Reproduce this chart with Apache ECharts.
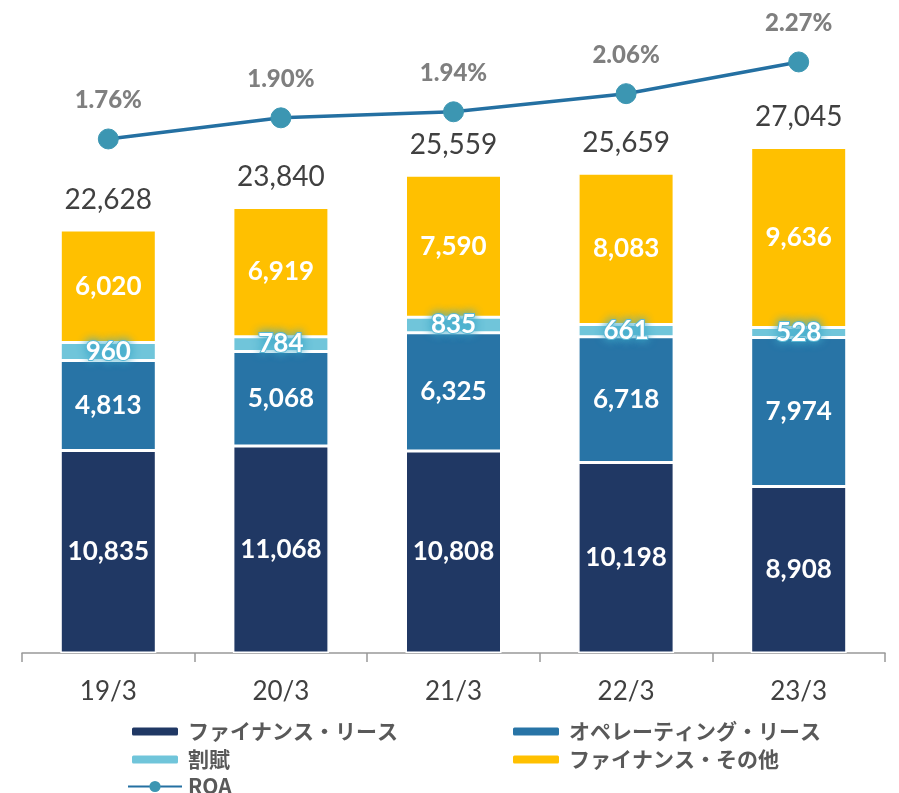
<!DOCTYPE html>
<html><head><meta charset="utf-8">
<script src="https://cdn.jsdelivr.net/npm/echarts@6/dist/echarts.min.js"></script>
<style>html,body{margin:0;padding:0;background:#fff}#c{width:899px;height:793px}</style>
</head><body><div id="c"></div>
<script>
const categories = ['19/3','20/3','21/3','22/3','23/3'];
const financeLease = [10835, 11068, 10808, 10198, 8908];
const operatingLease = [4813, 5068, 6325, 6718, 7974];
const installment = [960, 784, 835, 661, 528];
const financeOther = [6020, 6919, 7590, 8083, 9636];
const totals = [22628, 23840, 25559, 25659, 27045];
const roa = [1.76, 1.90, 1.94, 2.06, 2.27];

const names = ['ファイナンス・リース','オペレーティング・リース','割賦','ファイナンス・その他','ROA'];
const colors = ['#203864','#2874A6','#70C5DA','#FFC000','#2470A2'];
const numFont = 'Lato';
const fmt = v => v.toLocaleString('en-US');

const segLabel = {
  show: true, color: '#fff', fontWeight: 'bold', fontSize: 26, fontFamily: numFont,
  formatter: p => fmt(p.value)
};

function bar(i, data, extra) {
  return Object.assign({
    name: names[i], type: 'bar', stack: 'a', data: data, barWidth: 96,
    itemStyle: { color: colors[i], borderColor: '#fff', borderWidth: 1.5 },
    label: segLabel
  }, extra || {});
}

const legendBase = {
  padding: 0, itemWidth: 48, itemHeight: 10, itemGap: 6,
  textStyle: { fontSize: 21, fontWeight: 'bold', color: '#595959', fontFamily: 'Noto Sans CJK JP', padding: [0, 0, 0, 4] }
};
function lg(name, left, top, extra) {
  return Object.assign({}, legendBase, { data: [name], left: left, top: top }, extra || {});
}

const chart = echarts.init(document.getElementById('c'));
chart.setOption({
  animation: false,
  grid: { left: 22, right: 14, top: 10, bottom: 140 },
  legend: [
    lg(names[0], 130, 721),
    lg(names[1], 511, 721),
    lg(names[2], 130, 749),
    lg(names[3], 511, 749),
    lg(names[4], 127, 776, { itemWidth: 54, itemHeight: 14, textStyle: Object.assign({}, legendBase.textStyle, { padding: [0,0,0,1] }) })
  ],
  xAxis: {
    type: 'category', data: categories,
    axisLine: { lineStyle: { color: '#999', width: 1.5 } },
    axisTick: { show: true, length: 9, lineStyle: { color: '#999', width: 1.5 } },
    axisLabel: { fontSize: 26, color: '#404040', margin: 26, fontFamily: numFont }
  },
  yAxis: [
    { type: 'value', min: 0, max: 34400, show: false, splitLine: { show: false } },
    { type: 'value', min: -1.644, max: 2.614, show: false, splitLine: { show: false } }
  ],
  series: [
    bar(0, financeLease),
    bar(1, operatingLease),
    bar(2, installment, {
      label: Object.assign({}, segLabel, {
        textBorderColor: '#62bcd8', textBorderWidth: 2,
        textShadowColor: '#3fa9c9', textShadowBlur: 10
      })
    }),
    bar(3, financeOther),
    {
      name: 'total', type: 'bar', stack: 'a', barWidth: 96,
      data: totals.map(() => 0),
      itemStyle: { color: 'transparent' },
      label: {
        show: true, position: 'top', distance: 16,
        fontSize: 28, color: '#404040', fontFamily: numFont,
        formatter: p => fmt(totals[p.dataIndex])
      },
      tooltip: { show: false }
    },
    {
      name: names[4], type: 'line', yAxisIndex: 1, data: roa,
      lineStyle: { color: colors[4], width: 3.5 },
      itemStyle: { color: '#3C96B2', borderColor: '#3C96B2' },
      symbol: 'circle', symbolSize: 20,
      label: {
        show: true, position: 'top', distance: 16,
        fontSize: 24, fontWeight: 900, color: '#7f7f7f', fontFamily: numFont,
        formatter: p => p.value.toFixed(2) + '%'
      },
      z: 5
    }
  ]
});
</script></body></html>
